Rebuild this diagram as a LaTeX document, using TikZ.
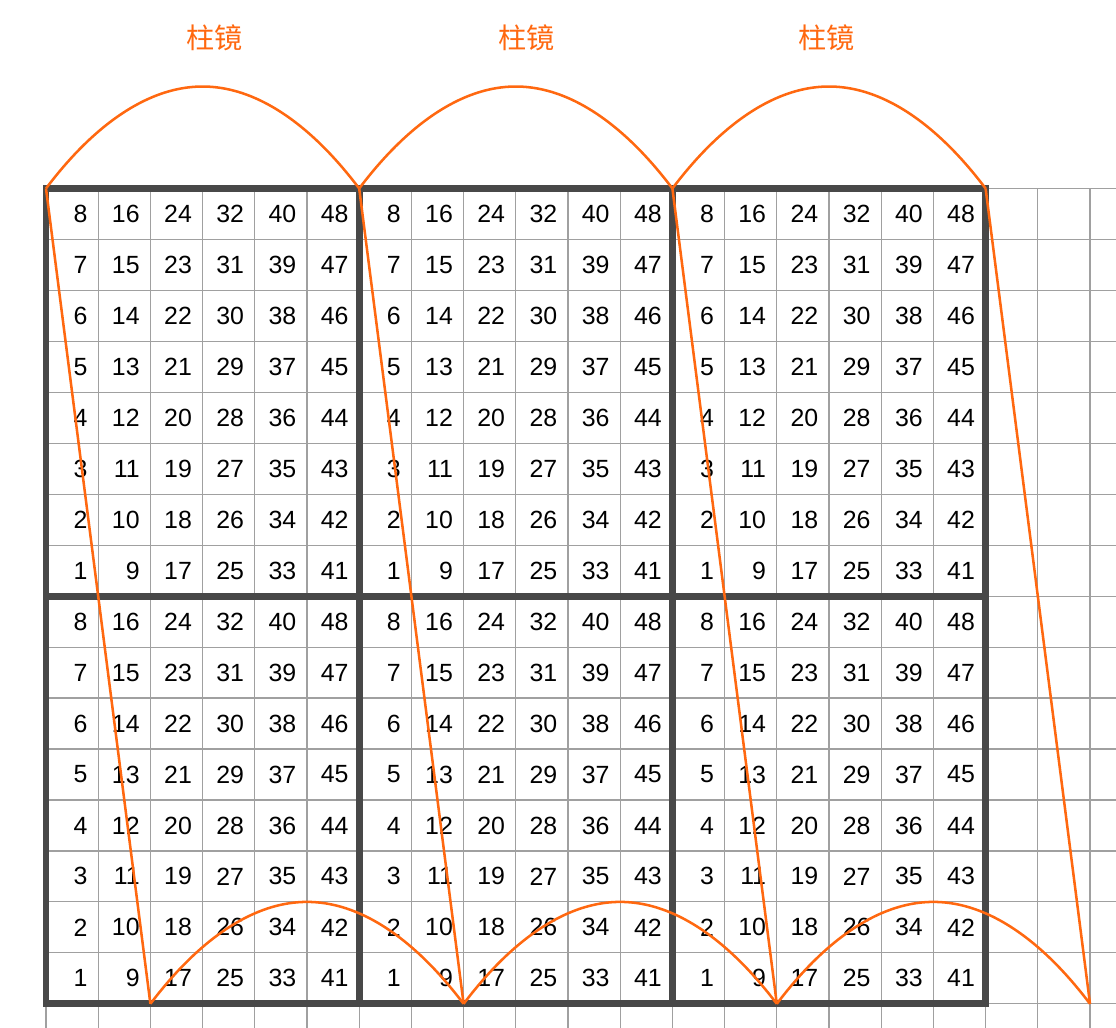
\documentclass[tikz,border=0pt]{standalone}
\usepackage{fontspec}
\setmainfont{Liberation Sans}
\newfontfamily\cjkfont{Noto Sans CJK SC}
\definecolor{lensorange}{RGB}{255,104,16}
\definecolor{framegray}{RGB}{72,72,72}
\definecolor{gridgray}{RGB}{160,160,160}

\begin{document}
\begin{tikzpicture}[x=1.305cm,y=1.274cm,
	gridline/.style={gridgray,line width=0.8pt},
	blockframe/.style={framegray,line width=4.8pt},
	scanpath/.style={lensorange,line width=1.8pt,line join=round},
	cellnum/.style={anchor=east,inner sep=0pt,font=\fontsize{17.7}{20}\selectfont},
	lenslabel/.style={lensorange,font=\cjkfont\fontsize{20}{24}\selectfont}]
	\useasboundingbox (-0.881,-0.471) rectangle (20.498,19.698);
	\foreach \x in {0,...,20}
		\draw[gridline] (\x,-0.471) -- (\x,16);
	\foreach \y in {0,...,16}
		\draw[gridline] (0,\y) -- (20.498,\y);
	\foreach \b in {0,1,2}
		\foreach \h in {0,1}
			\foreach \c in {0,...,5}
				\foreach \r in {0,...,7} {
					\pgfmathtruncatemacro\num{8*\c+\r+1}
					\node[cellnum] (n-\b-\h-\c-\r) at (6*\b+\c+0.8,8*\h+\r+0.5) {\num};
				}
	\draw[blockframe] (0,0) rectangle (18,16);
	\draw[blockframe] (6,0) -- (6,16) (12,0) -- (12,16) (0,8) -- (18,8);
	\foreach \i in {0,...,3} {
		\coordinate (top\i) at (6*\i,16);
		\coordinate (bot\i) at (6*\i+2,0);
	}
	\foreach \i [evaluate=\i as \j using int(\i+1)] in {0,1,2} {
		\draw[scanpath] (top\i) parabola bend (6*\i+3,18) (top\j);
		\draw[scanpath] (bot\i) parabola bend (6*\i+5,2) (bot\j);
	}
	\foreach \i in {0,...,3}
		\draw[scanpath] (top\i) -- (bot\i);
	\foreach \x [count=\k] in {3.23,9.21,14.96}
		\node[lenslabel] (lens\k) at (\x,18.95) {柱镜};
\end{tikzpicture}
\end{document}
